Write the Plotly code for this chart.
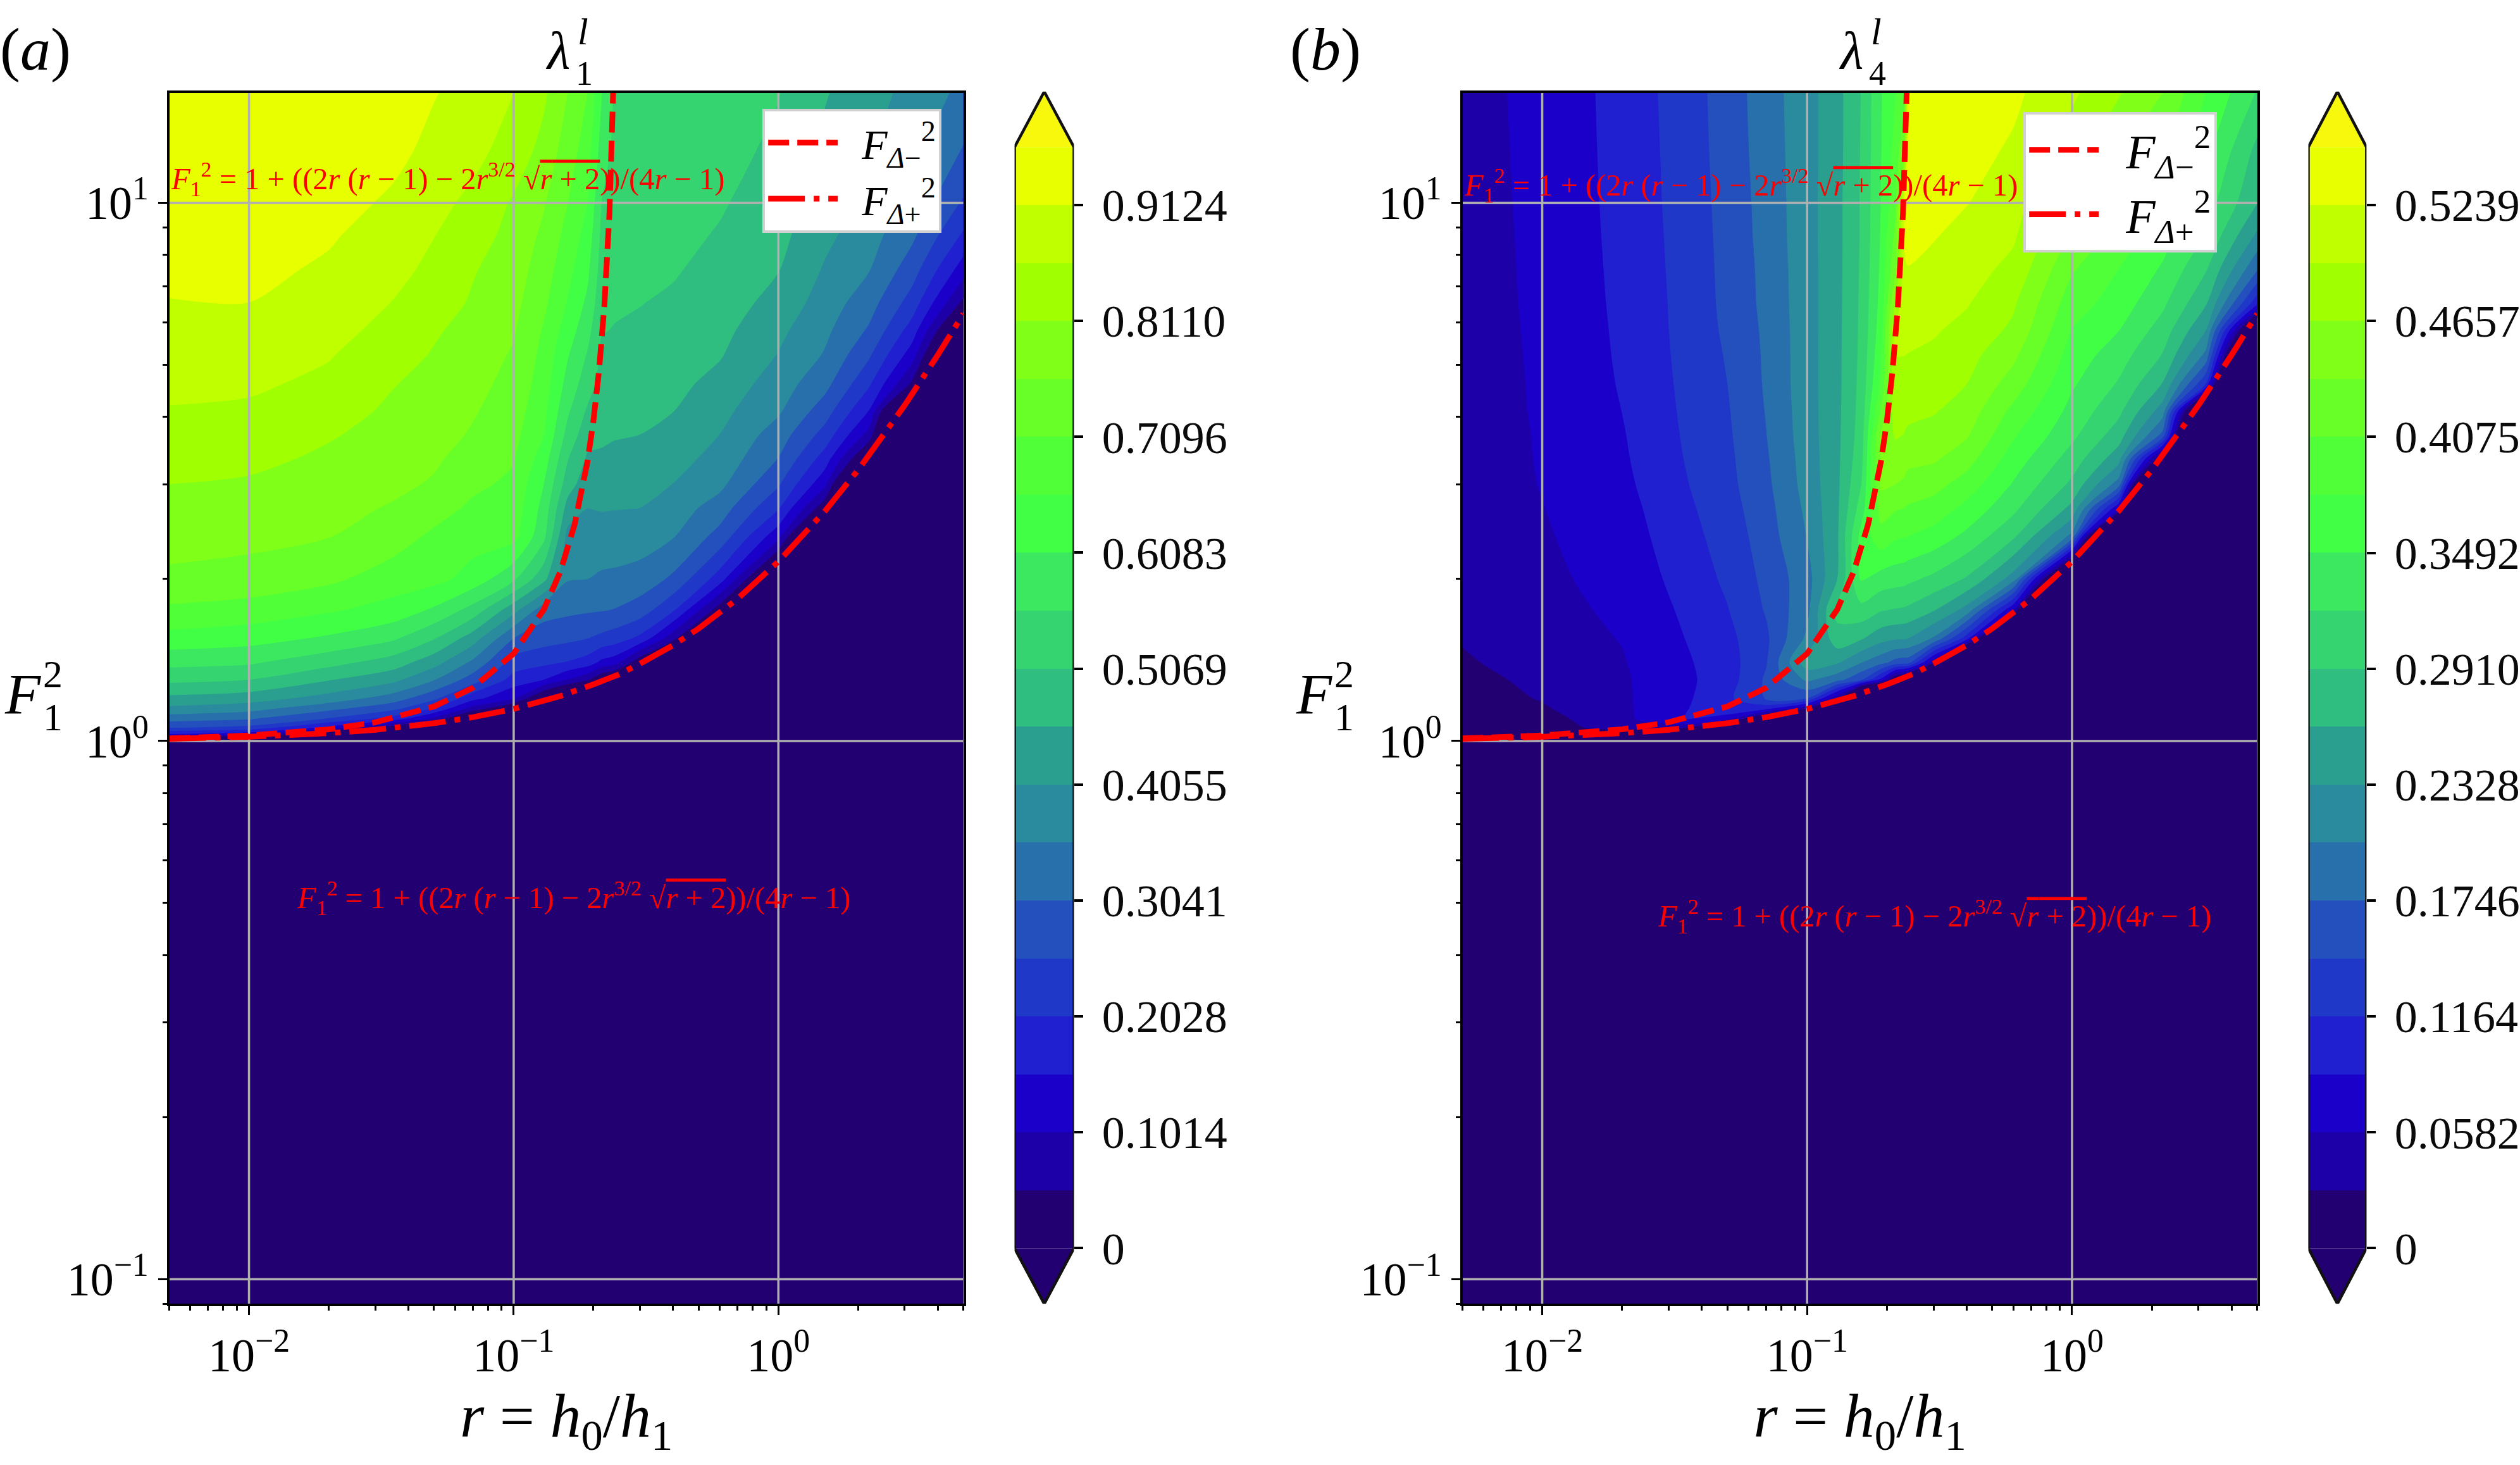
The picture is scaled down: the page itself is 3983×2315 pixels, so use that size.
import plotly.graph_objects as go
import numpy as np

W, H = 3983, 2315
SERIF = "Liberation Serif"

# grid of the filled contours: columns are r, rows are F^2
F_rows = [0.09, 0.95, 1.0, 1.03, 1.06, 1.1, 1.15, 1.2, 1.3, 1.4, 1.55, 1.75, 2, 2.4, 2.7, 3, 3.35, 3.7, 4.1, 4.6, 5.2, 5.8, 6.5, 7.5, 8.7, 10, 12.5, 16]
r_cols_a = [0.005, 0.01, 0.02, 0.035, 0.05, 0.07, 0.1, 0.13, 0.16, 0.19, 0.215, 0.24, 0.3, 0.4, 0.6, 1, 1.5, 2.2, 3.2, 5]
r_cols_b = [0.005, 0.01, 0.02, 0.035, 0.05, 0.07, 0.1, 0.13, 0.16, 0.19, 0.215, 0.232, 0.24, 0.3, 0.4, 0.6, 1, 1.5, 2.2, 3.2, 5]
N = -0.4

lambda1_by_r = [
    [N, N, -.1, .152, .26, .325, .395, .443, .52, .573, .64, .70, .75, .78, .797, .811, .83, .845, .858, .875, .888, .90, .91, .925, .933, .94, .948, .955],
    [N, N, -.13, .12, .24, .31, .375, .43, .507, .565, .628, .69, .74, .775, .792, .805, .823, .84, .853, .87, .884, .897, .912, .925, .933, .94, .948, .955],
    [N, N, -.25, -.03, .14, .25, .32, .385, .46, .525, .60, .665, .72, .762, .777, .79, .803, .815, .83, .85, .865, .88, .892, .905, .918, .93, .945, .953],
    [N, N, -.3, -.15, .02, .18, .27, .33, .42, .483, .565, .64, .685, .733, .755, .772, .784, .795, .803, .813, .83, .845, .86, .876, .89, .905, .925, .94],
    [N, N, -.35, -.25, -.1, .09, .2, .265, .358, .426, .51, .60, .675, .70, .73, .755, .768, .78, .788, .797, .807, .817, .835, .85, .863, .877, .90, .915],
    [N, N, N, -.35, -.25, -.05, .083, .17, .28, .345, .43, .538, .64, .68, .70, .72, .74, .755, .765, .775, .785, .795, .805, .815, .833, .85, .877, .895],
    [N, N, N, N, -.38, -.25, -.01, .105, .183, .232, .304, .423, .567, .675, .69, .70, .713, .725, .735, .745, .755, .765, .775, .785, .795, .805, .84, .862],
    [N] * 5 + [-.35, -.2, -.02, .152, .215, .275, .325, .47, .57, .59, .608, .635, .659, .672, .685, .695, .705, .72, .735, .75, .765, .795, .82],
    [N] * 6 + [-.3, -.1, .10, .20, .265, .315, .358, .39, .435, .48, .51, .54, .565, .59, .612, .635, .655, .675, .693, .71, .735, .76],
    [N] * 7 + [-.25, .06, .18, .2535, .31, .355, .39, .405, .425, .45, .475, .50, .53, .553, .575, .597, .62, .64, .659, .685, .71],
    [N] * 8 + [.0, .14, .24, .307, .347, .385, .408, .423, .448, .466, .478, .488, .498, .51, .522, .535, .546, .557, .585, .61],
    [N] * 8 + [-.03, .125, .228, .302, .345, .382, .407, .42, .444, .46, .472, .485, .496, .505, .513, .52, .528, .535, .545, .552],
    [N] * 8 + [-.2, .01, .19, .28, .334, .38, .405, .42, .44, .456, .467, .48, .49, .50, .508, .516, .524, .531, .543, .552],
    [N] * 9 + [-.15, .067, .21, .295, .358, .382, .405, .423, .44, .457, .47, .48, .49, .50, .511, .52, .528, .54, .55],
    [N] * 10 + [-.15, .02, .178, .286, .33, .368, .39, .405, .42, .44, .46, .471, .482, .492, .503, .512, .525, .537],
    [N] * 12 + [-.1, .118, .205, .26, .303, .33, .362, .38, .403, .418, .438, .458, .471, .482, .496, .509],
    [N] * 13 + [-.2, .01, .114, .18, .233, .277, .32, .35, .366, .382, .40, .418, .43, .445, .46],
    [N] * 15 + [-.25, -.03, .08, .15, .21, .26, .298, .325, .357, .375, .39, .41, .425],
    [N] * 17 + [-.3, -.2, .04, .125, .18, .23, .276, .315, .343, .37, .39],
    [N] * 18 + [-.35, -.3, -.2, -.08, .035, .125, .195, .248, .30, .342],
]

lambda4_by_r = [
    [N, N, -.1, .005, .008, .01, .012, .015, .02, .026, .031, .034, .036, .038, .039, .04, .0405, .041, .0415, .042, .0425, .043, .0435, .044, .0445, .045, .046, .047],
    [N, N, -.1, .008, .012, .018, .026, .031, .036, .04, .044, .048, .052, .0555, .0575, .0595, .0605, .061, .062, .0625, .0632, .0638, .0645, .065, .0655, .066, .0665, .067],
    [N, N, -.2, -.01, .045, .05, .052, .053, .054, .056, .0595, .064, .068, .072, .076, .08, .083, .085, .0875, .0895, .091, .092, .093, .094, .095, .0957, .0967, .0975],
    [N, N, N, -.2, .04, .09, .0855, .083, .082, .084, .088, .0925, .0985, .107, .111, .115, .118, .12, .1215, .123, .1245, .1255, .126, .127, .128, .129, .13, .1315],
    [N] * 4 + [-.1, .07, .112, .11, .102, .103, .108, .115, .122, .128, .133, .137, .139, .141, .143, .1455, .148, .151, .153, .154, .155, .156, .158, .159],
    [N, N, N, -.35, -.3, -.03, .10, .148, .15, .143, .14, .148, .153, .16, .164, .168, .171, .174, .176, .178, .179, .18, .182, .183, .185, .186, .188, .19],
    [N] * 5 + [-.3, .03, .1455, .21, .25, .21, .196, .192, .205, .21, .215, .217, .219, .22, .221, .221, .221, .221, .2215, .222, .222, .222, .222],
    [N] * 6 + [-.3, .03, .185, .237, .28, .30, .262, .258, .257, .256, .2555, .255, .2545, .254, .254, .254, .2535, .253, .253, .253, .252, .252],
    [N] * 7 + [-.2, .15, .205, .265, .31, .353, .36, .335, .32, .31, .305, .302, .30, .298, .297, .296, .295, .294, .294, .293, .292],
    [N] * 7 + [-.25, .08, .185, .243, .293, .337, .397, .42, .442, .445, .44, .41, .385, .373, .365, .36, .355, .352, .35, .348, .347],
    [N] * 8 + [-.01, .165, .236, .289, .332, .383, .41, .4366, .452, .469, .482, .49, .495, .50, .47, .43, .415, .40, .388, .378],
    [N] * 8 + [-.03, .16, .235, .287, .33, .38, .407, .432, .45, .465, .476, .485, .495, .503, .513, .52, .525, .53, .43, .40],
    [N] * 8 + [-.05, .16, .2328, .285, .327, .3783, .404, .426, .445, .461, .473, .482, .494, .503, .515, .523, .53, .535, .54, .545],
    [N] * 8 + [-.2, .04, .2, .264, .313, .367, .395, .418, .441, .455, .468, .477, .489, .498, .505, .516, .526, .533, .54, .545],
    [N] * 9 + [-.2, .1, .222, .288, .342, .37, .395, .42, .44, .453, .4657, .476, .486, .497, .506, .515, .525, .534, .54],
    [N] * 10 + [-.2, .058, .22, .296, .327, .347, .365, .382, .40, .423, .443, .46, .47, .487, .499, .507, .52, .53],
    [N] * 12 + [-.15, .195, .253, .285, .308, .327, .34, .353, .366, .378, .392, .41, .434, .454, .48, .50],
    [N] * 13 + [-.3, .058, .19, .245, .276, .298, .317, .333, .35, .365, .378, .396, .412, .44, .468],
    [N] * 15 + [-.3, -.01, .165, .218, .26, .289, .307, .326, .345, .362, .378, .41, .4366],
    [N] * 17 + [-.3, -.15, .115, .195, .233, .265, .293, .318, .335, .357, .378],
    [N] * 20 + [-.25, -.08, .095, .176, .228, .263, .283, .318],
]

# the two neutral curves
r_minus = [0.005, 0.01, 0.02, 0.03, 0.05, 0.07, 0.1, 0.13, 0.15, 0.17, 0.19, 0.2, 0.21, 0.22, 0.23, 0.235, 0.24]
F_minus = [1.011, 1.024, 1.051, 1.083, 1.159, 1.255, 1.453, 1.756, 2.063, 2.527, 3.304, 3.927, 4.862, 6.42, 9.545, 12.67, 18.9]
r_plus = [0.005, 0.01, 0.02, 0.03, 0.05, 0.07, 0.1, 0.15, 0.2, 0.25, 0.3, 0.4, 0.5, 0.7, 1, 1.5, 2, 3, 4, 5]
F_plus = [1.009, 1.018, 1.034, 1.049, 1.079, 1.107, 1.147, 1.212, 1.274, 1.33, 1.392, 1.506, 1.618, 1.836, 2.155, 2.675, 3.188, 4.204, 5.213, 6.219]

# band colours, lowest (under-range) to highest (over-range)
band_colors = ["#220072", "#220072", "#1e00a8", "#1a00c8", "#2020d0", "#2038c8", "#2350bc", "#2870ab", "#2a8a9e",
               "#2a9f90", "#30bd80", "#35d470", "#3ce860", "#40ff45", "#50ff38", "#68ff28", "#80ff18", "#a0ff00",
               "#c0ff00", "#e8ff00", "#f8f80c"]

step_a = 0.05069
step_b = 0.029106
ticks_a = [0, 0.1014, 0.2028, 0.3041, 0.4055, 0.5069, 0.6083, 0.7096, 0.8110, 0.9124]
labels_a = ["0", "0.1014", "0.2028", "0.3041", "0.4055", "0.5069", "0.6083", "0.7096", "0.8110", "0.9124"]
ticks_b = [0, 0.0582, 0.1164, 0.1746, 0.2328, 0.2910, 0.3492, 0.4075, 0.4657, 0.5239]
labels_b = ["0", "0.0582", "0.1164", "0.1746", "0.2328", "0.2910", "0.3492", "0.4075", "0.4657", "0.5239"]

r_major = [0.01, 0.1, 1]
r_major_labels = ["10<sup>−2</sup>", "10<sup>−1</sup>", "10<sup>0</sup>"]
F_major = [0.1, 1, 10]
F_major_labels = ["10<sup>−1</sup>", "10<sup>0</sup>", "10<sup>1</sup>"]
r_minor = [0.005, 0.006, 0.007, 0.008, 0.009, 0.02, 0.03, 0.04, 0.05, 0.06, 0.07, 0.08, 0.09,
           0.2, 0.3, 0.4, 0.5, 0.6, 0.7, 0.8, 0.9, 2, 3, 4, 5]
F_minor = [0.09, 0.2, 0.3, 0.4, 0.5, 0.6, 0.7, 0.8, 0.9, 2, 3, 4, 5, 6, 7, 8, 9]
r_limits = [0.005, 5]
F_limits = [0.09, 16]

LEGEND_MINUS = "&nbsp;&nbsp;<i>F</i><sub><i>Δ</i>−</sub><sup>2</sup>"
LEGEND_PLUS = "&nbsp;&nbsp;<i>F</i><sub><i>Δ</i>+</sub><sup>2</sup>"
EQUATION = ("<i>F</i><sub>1</sub><sup>2</sup> = 1 + ((2<i>r</i> (<i>r</i> − 1) − 2<i>r</i><sup>3/2</sup> "
            "√<span style=\"text-decoration:overline\"><i>r</i> + 2</span>))/(4<i>r</i> − 1)")


def fx(px):
    return px / W


def fy(py):
    return 1 - py / H


fig = go.Figure()
annotations = []


def note(text, px, py, size, color="black", xanchor="center"):
    annotations.append(dict(text=text, x=fx(px), y=fy(py), xref="paper", yref="paper", showarrow=False,
                            xanchor=xanchor, yanchor="middle", font=dict(family=SERIF, size=size, color=color)))


def panel(i, r_cols, z_cols, step, left, right, legend_name, legend_box, legend_font):
    xa, ya = f"x{i}", f"y{i}"
    z = np.array(z_cols).T.tolist()
    scale = [[k / (len(band_colors) - 1), c] for k, c in enumerate(band_colors)]
    fig.add_trace(go.Contour(x=r_cols, y=F_rows, z=z, xaxis=xa, yaxis=ya, autocontour=False,
                             contours=dict(start=0, end=step * 19.2, size=step, coloring="fill", showlines=False),
                             line=dict(width=0, smoothing=0.8), colorscale=scale, showscale=False,
                             hoverinfo="skip", showlegend=False))
    for v in r_major:
        fig.add_trace(go.Scatter(x=[v, v], y=F_limits, xaxis=xa, yaxis=ya, mode="lines", showlegend=False,
                                 hoverinfo="skip", line=dict(color="#b0b0b0", width=3.5)))
    for v in F_major:
        fig.add_trace(go.Scatter(x=r_limits, y=[v, v], xaxis=xa, yaxis=ya, mode="lines", showlegend=False,
                                 hoverinfo="skip", line=dict(color="#b0b0b0", width=3.5)))
    fig.add_trace(go.Scatter(x=r_minus, y=F_minus, xaxis=xa, yaxis=ya, mode="lines", name=LEGEND_MINUS,
                             legend=legend_name, line=dict(color="#ff0000", width=9, dash="33px,13px")))
    fig.add_trace(go.Scatter(x=r_plus, y=F_plus, xaxis=xa, yaxis=ya, mode="lines", name=LEGEND_PLUS,
                             legend=legend_name, line=dict(color="#ff0000", width=9, dash="58px,14px,9px,14px")))
    axis_common = dict(type="log", showline=True, mirror=True, linecolor="black", linewidth=4, showgrid=False,
                       zeroline=False, ticks="outside", ticklen=14, tickwidth=3, tickcolor="black", layer="above traces",
                       tickmode="array", tickfont=dict(family=SERIF, size=74, color="black"))
    fig.update_layout(**{
        f"xaxis{i}": dict(axis_common, domain=[fx(left), fx(right)], anchor=ya, range=[np.log10(r_limits[0]), np.log10(r_limits[1])],
                          tickvals=r_major, ticktext=r_major_labels,
                          minor=dict(tickmode="array", tickvals=r_minor, ticks="outside", ticklen=7, tickwidth=2.5, tickcolor="black"),
                          title=dict(text="<i>r</i> = <i>h</i><sub>0</sub>/<i>h</i><sub>1</sub>", font=dict(family=SERIF, size=98), standoff=18)),
        f"yaxis{i}": dict(axis_common, domain=[fy(2063), fy(147)], anchor=xa, range=[np.log10(F_limits[0]), np.log10(F_limits[1])],
                          tickvals=F_major, ticktext=F_major_labels,
                          minor=dict(tickmode="array", tickvals=F_minor, ticks="outside", ticklen=7, tickwidth=2.5, tickcolor="black")),
        legend_name: dict(x=fx(legend_box[0]), y=fy(legend_box[1]), xanchor="left", yanchor="top", bgcolor="white",
                          bordercolor="#d0d0d0", borderwidth=4, itemwidth=110, entrywidth=legend_box[2], entrywidthmode="pixels",
                          font=dict(family=SERIF, size=legend_font, color="black")),
    })


def colourbar(i, step, ticks, labels, left, right):
    xa, ya = f"x{i}", f"y{i}"
    levels = [k * step for k in range(20)]
    colors = band_colors[1:-1]
    scale = [[k / (len(colors) - 1), c] for k, c in enumerate(colors)]
    per_px = step / 91.7
    y_low = -(2063 - 1975) * per_px
    y_high = (1975 - 145) * per_px
    top = levels[-1]
    fig.add_trace(go.Heatmap(x=[0, 1], y=levels, z=[[k] for k in range(19)], xaxis=xa, yaxis=ya, colorscale=scale,
                             zmin=0, zmax=18, showscale=False, hoverinfo="skip"))
    fig.add_trace(go.Scatter(x=[0, 0.5, 1, 0], y=[top, y_high, top, top], xaxis=xa, yaxis=ya, mode="lines", fill="toself",
                             fillcolor=band_colors[-1], line=dict(width=0), showlegend=False, hoverinfo="skip"))
    fig.add_trace(go.Scatter(x=[0, 0.5, 1, 0], y=[0, y_low, 0, 0], xaxis=xa, yaxis=ya, mode="lines", fill="toself",
                             fillcolor=band_colors[0], line=dict(width=0), showlegend=False, hoverinfo="skip"))
    fig.add_trace(go.Scatter(x=[0, 0, 0.5, 1, 1, 0.5, 0], y=[0, top, y_high, top, 0, y_low, 0], xaxis=xa, yaxis=ya, mode="lines",
                             line=dict(color="#111111", width=4.5), cliponaxis=False, showlegend=False, hoverinfo="skip"))
    fig.update_layout(**{
        f"xaxis{i}": dict(domain=[fx(left), fx(right)], anchor=ya, range=[0, 1], visible=False),
        f"yaxis{i}": dict(domain=[fy(2063), fy(145)], anchor=xa, side="right", range=[y_low, y_high], tickmode="array",
                          tickvals=ticks, ticktext=labels, ticks="outside", ticklen=14, tickwidth=3.5, tickcolor="black",
                          showgrid=False, zeroline=False, showline=False, ticklabelstandoff=15,
                          tickfont=dict(family=SERIF, size=72, color="#0a0a0a")),
    })


panel(1, r_cols_a, lambda1_by_r, step_a, 268, 1525, "legend", (1207, 172, 162), 66)
panel(2, r_cols_b, lambda4_by_r, step_b, 2315, 3573, "legend2", (3203, 177, 226), 76)
colourbar(3, step_a, ticks_a, labels_a, 1606, 1700)
colourbar(4, step_b, ticks_b, labels_b, 3654, 3746)

note("(<i>a</i>)", 56, 78, 96)
note("(<i>b</i>)", 2098, 78, 96)
for base in (0, 2044):
    note("<i>F</i>", 36 + base, 1098, 92)
    note("2", 84 + base, 1066, 62)
    note("1", 84 + base, 1134, 62)
for x0, sub in ((883, "1"), (2930, "4")):
    note("<i>λ</i>", x0, 80, 84)
    note("<i>l</i>", x0 + 40, 50, 60)
    note(sub, x0 + 42, 116, 54)
note(EQUATION, 709, 283, 48.5, "#ff0000")
note(EQUATION, 908, 1421, 48.5, "#ff0000")
note(EQUATION, 2756, 293, 48.5, "#ff0000")
note(EQUATION, 3062, 1450, 48.5, "#ff0000")

fig.update_layout(width=W, height=H, autosize=False, margin=dict(l=0, r=0, t=0, b=0), plot_bgcolor="white",
                  paper_bgcolor="white", font=dict(family=SERIF, color="black"), annotations=annotations)
fig.write_html("out.html", post_script="document.body.style.margin='0';", config=dict(displayModeBar=False))
